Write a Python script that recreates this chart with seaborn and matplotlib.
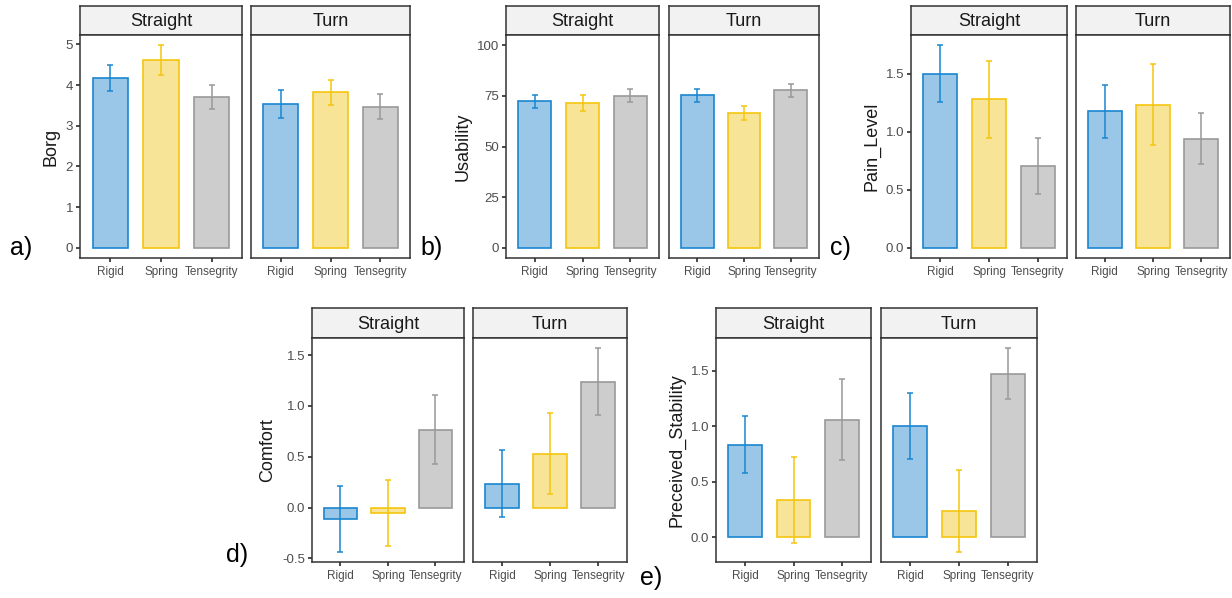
#!/usr/bin/env python3
"""
Subjective ratings per design (Rigid / Spring / Tensegrity) for straight
and turn walking, mean with error bars, ggplot-like facets.
"""
import numpy as np
import pandas as pd
import matplotlib
matplotlib.use("Agg")
import matplotlib.pyplot as plt
import seaborn as sns
from matplotlib.ticker import FormatStrFormatter, FixedLocator

designs = ["Rigid", "Spring", "Tensegrity"]
facets = ["Straight", "Turn"]

# means per facet (Straight, Turn) and design, with lower/upper error bounds
borg_mean = [[4.17, 4.62, 3.71], [3.53, 3.83, 3.47]]
borg_lo = [[3.85, 4.24, 3.42], [3.20, 3.52, 3.16]]
borg_hi = [[4.48, 4.98, 4.00], [3.87, 4.13, 3.79]]

usab_mean = [[72.5, 71.5, 75.1], [75.2, 66.6, 77.9]]
usab_lo = [[69.2, 67.5, 71.8], [72.1, 63.1, 74.6]]
usab_hi = [[75.6, 75.2, 78.2], [78.4, 70.0, 81.0]]

pain_mean = [[1.50, 1.28, 0.705], [1.176, 1.233, 0.938]]
pain_lo = [[1.253, 0.946, 0.465], [0.943, 0.886, 0.723]]
pain_hi = [[1.746, 1.609, 0.943], [1.405, 1.583, 1.159]]

comf_mean = [[-0.111, -0.056, 0.766], [0.233, 0.531, 1.238]]
comf_lo = [[-0.436, -0.383, 0.426], [-0.092, 0.134, 0.911]]
comf_hi = [[0.210, 0.272, 1.107], [0.563, 0.927, 1.569]]

stab_mean = [[0.834, 0.336, 1.059], [0.999, 0.237, 1.473]]
stab_lo = [[0.576, -0.054, 0.693], [0.702, -0.132, 1.242]]
stab_hi = [[1.095, 0.723, 1.428], [1.299, 0.609, 1.704]]

fills = {"Rigid": "#9AC6E8", "Spring": "#F7E496", "Tensegrity": "#CDCDCD"}
edges = {"Rigid": "#1A86D0", "Spring": "#F5C50F", "Tensegrity": "#999999"}

W, H = 1232, 598
sns.set_theme(style="white")
plt.rcParams["font.family"] = ["Liberation Sans", "DejaVu Sans"]
fig = plt.figure(figsize=(W / 100, H / 100), dpi=100)


def px_axes(x0, x1, y0, y1):
    return fig.add_axes([x0 / W, 1 - y1 / H, (x1 - x0) / W, (y1 - y0) / H])


def draw_panel(name, mean, lo, hi, xs, strip_y, plot_y, ticks, fmt, fixed=None):
    all_lo = min(min(r) for r in lo)
    all_hi = max(max(r) for r in hi)
    if fixed is not None:
        all_lo, all_hi = fixed
    ymin, ymax = min(0, all_lo), max(0, all_hi)
    pad = 0.05 * (ymax - ymin)
    for i, facet in enumerate(facets):
        x0, x1 = xs[i]
        # strip
        sax = px_axes(x0, x1, strip_y[0], strip_y[1])
        sax.set_facecolor("#F2F2F2")
        sax.set_xticks([])
        sax.set_yticks([])
        for sp in sax.spines.values():
            sp.set_color("#333333")
            sp.set_linewidth(1.1)
        sax.text(0.5, 0.45, facet, ha="center", va="center", fontsize=13,
                 color="#1A1A1A", transform=sax.transAxes)

        ax = px_axes(x0, x1, plot_y[0], plot_y[1])
        df = pd.DataFrame({"Design": designs, "value": mean[i]})
        sns.barplot(data=df, x="Design", y="value", hue="Design",
                    palette=fills, order=designs, hue_order=designs,
                    width=0.7, errorbar=None, legend=False, saturation=1,
                    ax=ax)
        for patch, d in zip(ax.patches, designs):
            patch.set_edgecolor(edges[d])
            patch.set_linewidth(1.2)
        for j, d in enumerate(designs):
            m = mean[i][j]
            ax.errorbar(j, m, yerr=[[m - lo[i][j]], [hi[i][j] - m]],
                        color=edges[d], capsize=2.5, elinewidth=1.1,
                        capthick=1.1, zorder=5)
        ax.set_xlim(-0.6, 2.6)
        ax.set_ylim(ymin - pad, ymax + pad)
        ax.yaxis.set_major_locator(FixedLocator(ticks))
        ax.yaxis.set_major_formatter(FormatStrFormatter(fmt))
        ax.set_xlabel("")
        for sp in ax.spines.values():
            sp.set_color("#333333")
            sp.set_linewidth(1.1)
        ax.tick_params(axis="x", length=3, color="#333333", labelsize=8.5,
                       labelcolor="#4D4D4D", pad=3, bottom=True)
        if i == 0:
            ax.set_ylabel(name, fontsize=13, color="#1A1A1A", labelpad=4)
            ax.tick_params(axis="y", length=3, color="#333333", labelsize=9.5,
                           labelcolor="#4D4D4D", pad=2, left=True)
        else:
            ax.set_ylabel("")
            ax.tick_params(axis="y", left=False, labelleft=False)


top_strip = (6, 35)
top_plot = (35, 258)
bot_strip = (308, 338)
bot_plot = (338, 562)

draw_panel("Borg", borg_mean, borg_lo, borg_hi,
           [(80, 242), (251, 410)], top_strip, top_plot, [0, 1, 2, 3, 4, 5], "%d")
draw_panel("Usability", usab_mean, usab_lo, usab_hi,
           [(506, 659), (669, 819)], top_strip, top_plot,
           [0, 25, 50, 75, 100], "%d", fixed=(0, 100))
draw_panel("Pain_Level", pain_mean, pain_lo, pain_hi,
           [(911, 1067), (1076, 1230)], top_strip, top_plot,
           [0, 0.5, 1.0, 1.5], "%.1f")
draw_panel("Comfort", comf_mean, comf_lo, comf_hi,
           [(312, 464), (473, 627)], bot_strip, bot_plot,
           [-0.5, 0, 0.5, 1.0, 1.5], "%.1f")
draw_panel("Preceived_Stability", stab_mean, stab_lo, stab_hi,
           [(716, 871), (881, 1037)], bot_strip, bot_plot,
           [0, 0.5, 1.0, 1.5], "%.1f")

# panel letters
for lab, x, y in [("a)", 10, 248), ("b)", 420, 248), ("c)", 830, 248),
                  ("d)", 226, 555), ("e)", 640, 578)]:
    fig.text(x / W, 1 - y / H, lab, fontsize=18, color="black",
             ha="left", va="center")

plt.savefig("out.png", dpi=100)
